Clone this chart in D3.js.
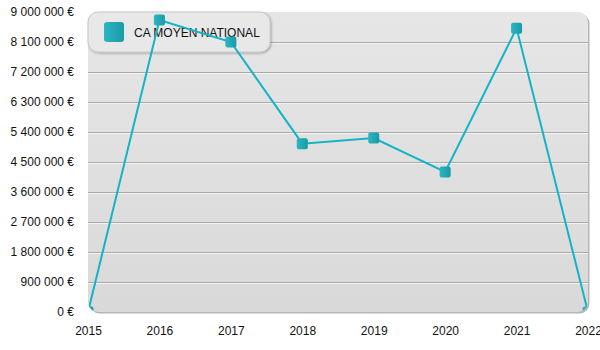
<!DOCTYPE html>
<html><head><meta charset="utf-8">
<script src="https://cdn.jsdelivr.net/npm/d3@7/dist/d3.min.js"></script>
<style>body{margin:0;background:#fff;}svg{display:block;font-family:"Liberation Sans",Arial,sans-serif;}</style>
</head><body><svg id="c" width="600" height="350"></svg>
<script>
const years = ["2015","2016","2017","2018","2019","2020","2021","2022"];
const values = [0, 8760000, 8100000, 5050000, 5220000, 4200000, 8510000, 0];
const yTicks = [0, 900000, 1800000, 2700000, 3600000, 4500000, 5400000, 6300000, 7200000, 8100000, 9000000];
const seriesName = "CA MOYEN NATIONAL";

const svg = d3.select("#c");
const m = {l: 88, r: 12, t: 12, b: 38};
const W = 600, H = 350;
const x = d3.scalePoint().domain(years).range([m.l, W - m.r]);
const y = d3.scaleLinear().domain([0, 9000000]).range([H - m.b, m.t]);
const fmt = v => d3.format(",")(v).replace(/,/g, " ") + " €";

const defs = svg.append("defs");
const bg = defs.append("linearGradient").attr("id","bg").attr("x1",0).attr("y1",0).attr("x2",0).attr("y2",1);
bg.append("stop").attr("offset","0%").attr("stop-color","#e6e6e6");
bg.append("stop").attr("offset","100%").attr("stop-color","#d9d9d9");
const mk = defs.append("linearGradient").attr("id","mk").attr("x1",0).attr("y1",0).attr("x2",1).attr("y2",0);
mk.append("stop").attr("offset","0%").attr("stop-color","#2bb6c2");
mk.append("stop").attr("offset","100%").attr("stop-color","#1a9aa8");
const filt = defs.append("filter").attr("id","sh").attr("x","-10%").attr("y","-10%").attr("width","130%").attr("height","140%");
filt.append("feDropShadow").attr("dx",1).attr("dy",1).attr("stdDeviation",1.2).attr("flood-color","#000").attr("flood-opacity",0.3);
defs.append("clipPath").attr("id","clip").append("rect")
  .attr("x", m.l).attr("y", m.t).attr("width", W - m.r - m.l).attr("height", H - m.b - m.t).attr("rx", 10);

// plot background
svg.append("rect").attr("x", m.l + 1.5).attr("y", m.t + 1.5).attr("width", W - m.r - m.l).attr("height", H - m.b - m.t)
  .attr("rx", 10).attr("fill", "#b5b5b5");
svg.append("rect").attr("x", m.l).attr("y", m.t).attr("width", W - m.r - m.l).attr("height", H - m.b - m.t)
  .attr("rx", 10).attr("fill", "url(#bg)");

// grid
const g = svg.append("g").attr("clip-path","url(#clip)");
yTicks.filter(v => v > 0 && v < 9000000).forEach(v => {
  g.append("line").attr("x1", m.l).attr("x2", W - m.r).attr("y1", Math.round(y(v)) + 0.5).attr("y2", Math.round(y(v)) + 0.5)
    .attr("stroke", "#a9a9a9").attr("stroke-width", 1);
  g.append("line").attr("x1", m.l).attr("x2", W - m.r).attr("y1", Math.round(y(v)) + 1.5).attr("y2", Math.round(y(v)) + 1.5)
    .attr("stroke", "#f4f4f4").attr("stroke-width", 1);
});

// y axis labels
const ya = svg.append("g").attr("transform", `translate(${m.l - 11},0)`)
  .call(d3.axisLeft(y).tickValues(yTicks).tickFormat(fmt).tickSize(0));
ya.select(".domain").remove();
ya.selectAll("text").attr("font-size", 12).attr("fill", "#111").attr("font-family", '"Liberation Sans",Arial,sans-serif');

// x axis labels
const xa = svg.append("g").attr("transform", `translate(0,${H - m.b + 11})`)
  .call(d3.axisBottom(x).tickSize(0));
xa.select(".domain").remove();
xa.selectAll("text").attr("font-size", 12).attr("fill", "#111").attr("font-family", '"Liberation Sans",Arial,sans-serif');

// legend
const lg = svg.append("g");
lg.append("rect").attr("x", m.l).attr("y", m.t).attr("width", 182).attr("height", 40).attr("rx", 10)
  .attr("fill", "#e8e8e8").attr("stroke", "#c8c8c8").attr("filter", "url(#sh)");
lg.append("rect").attr("x", 104).attr("y", 22).attr("width", 20).attr("height", 20).attr("rx", 3).attr("fill", "url(#mk)");
lg.append("text").attr("x", 134).attr("y", 37).attr("font-size", 12).attr("fill", "#111").text(seriesName);

// line
const data = years.map((yr, i) => ({yr, v: values[i]}));
const pg = svg.append("g").attr("clip-path", "url(#clip)");
pg.append("path").datum(data)
  .attr("d", d3.line().x(d => x(d.yr)).y(d => y(d.v)))
  .attr("fill", "none").attr("stroke", "#12b4c6").attr("stroke-width", 2);
pg.selectAll("rect.pt").data(data).join("rect").attr("class","pt")
  .attr("x", d => x(d.yr) - 5.5).attr("y", d => y(d.v) - 5.5)
  .attr("width", 11).attr("height", 11).attr("rx", 2).attr("fill", "url(#mk)");
</script></body></html>
